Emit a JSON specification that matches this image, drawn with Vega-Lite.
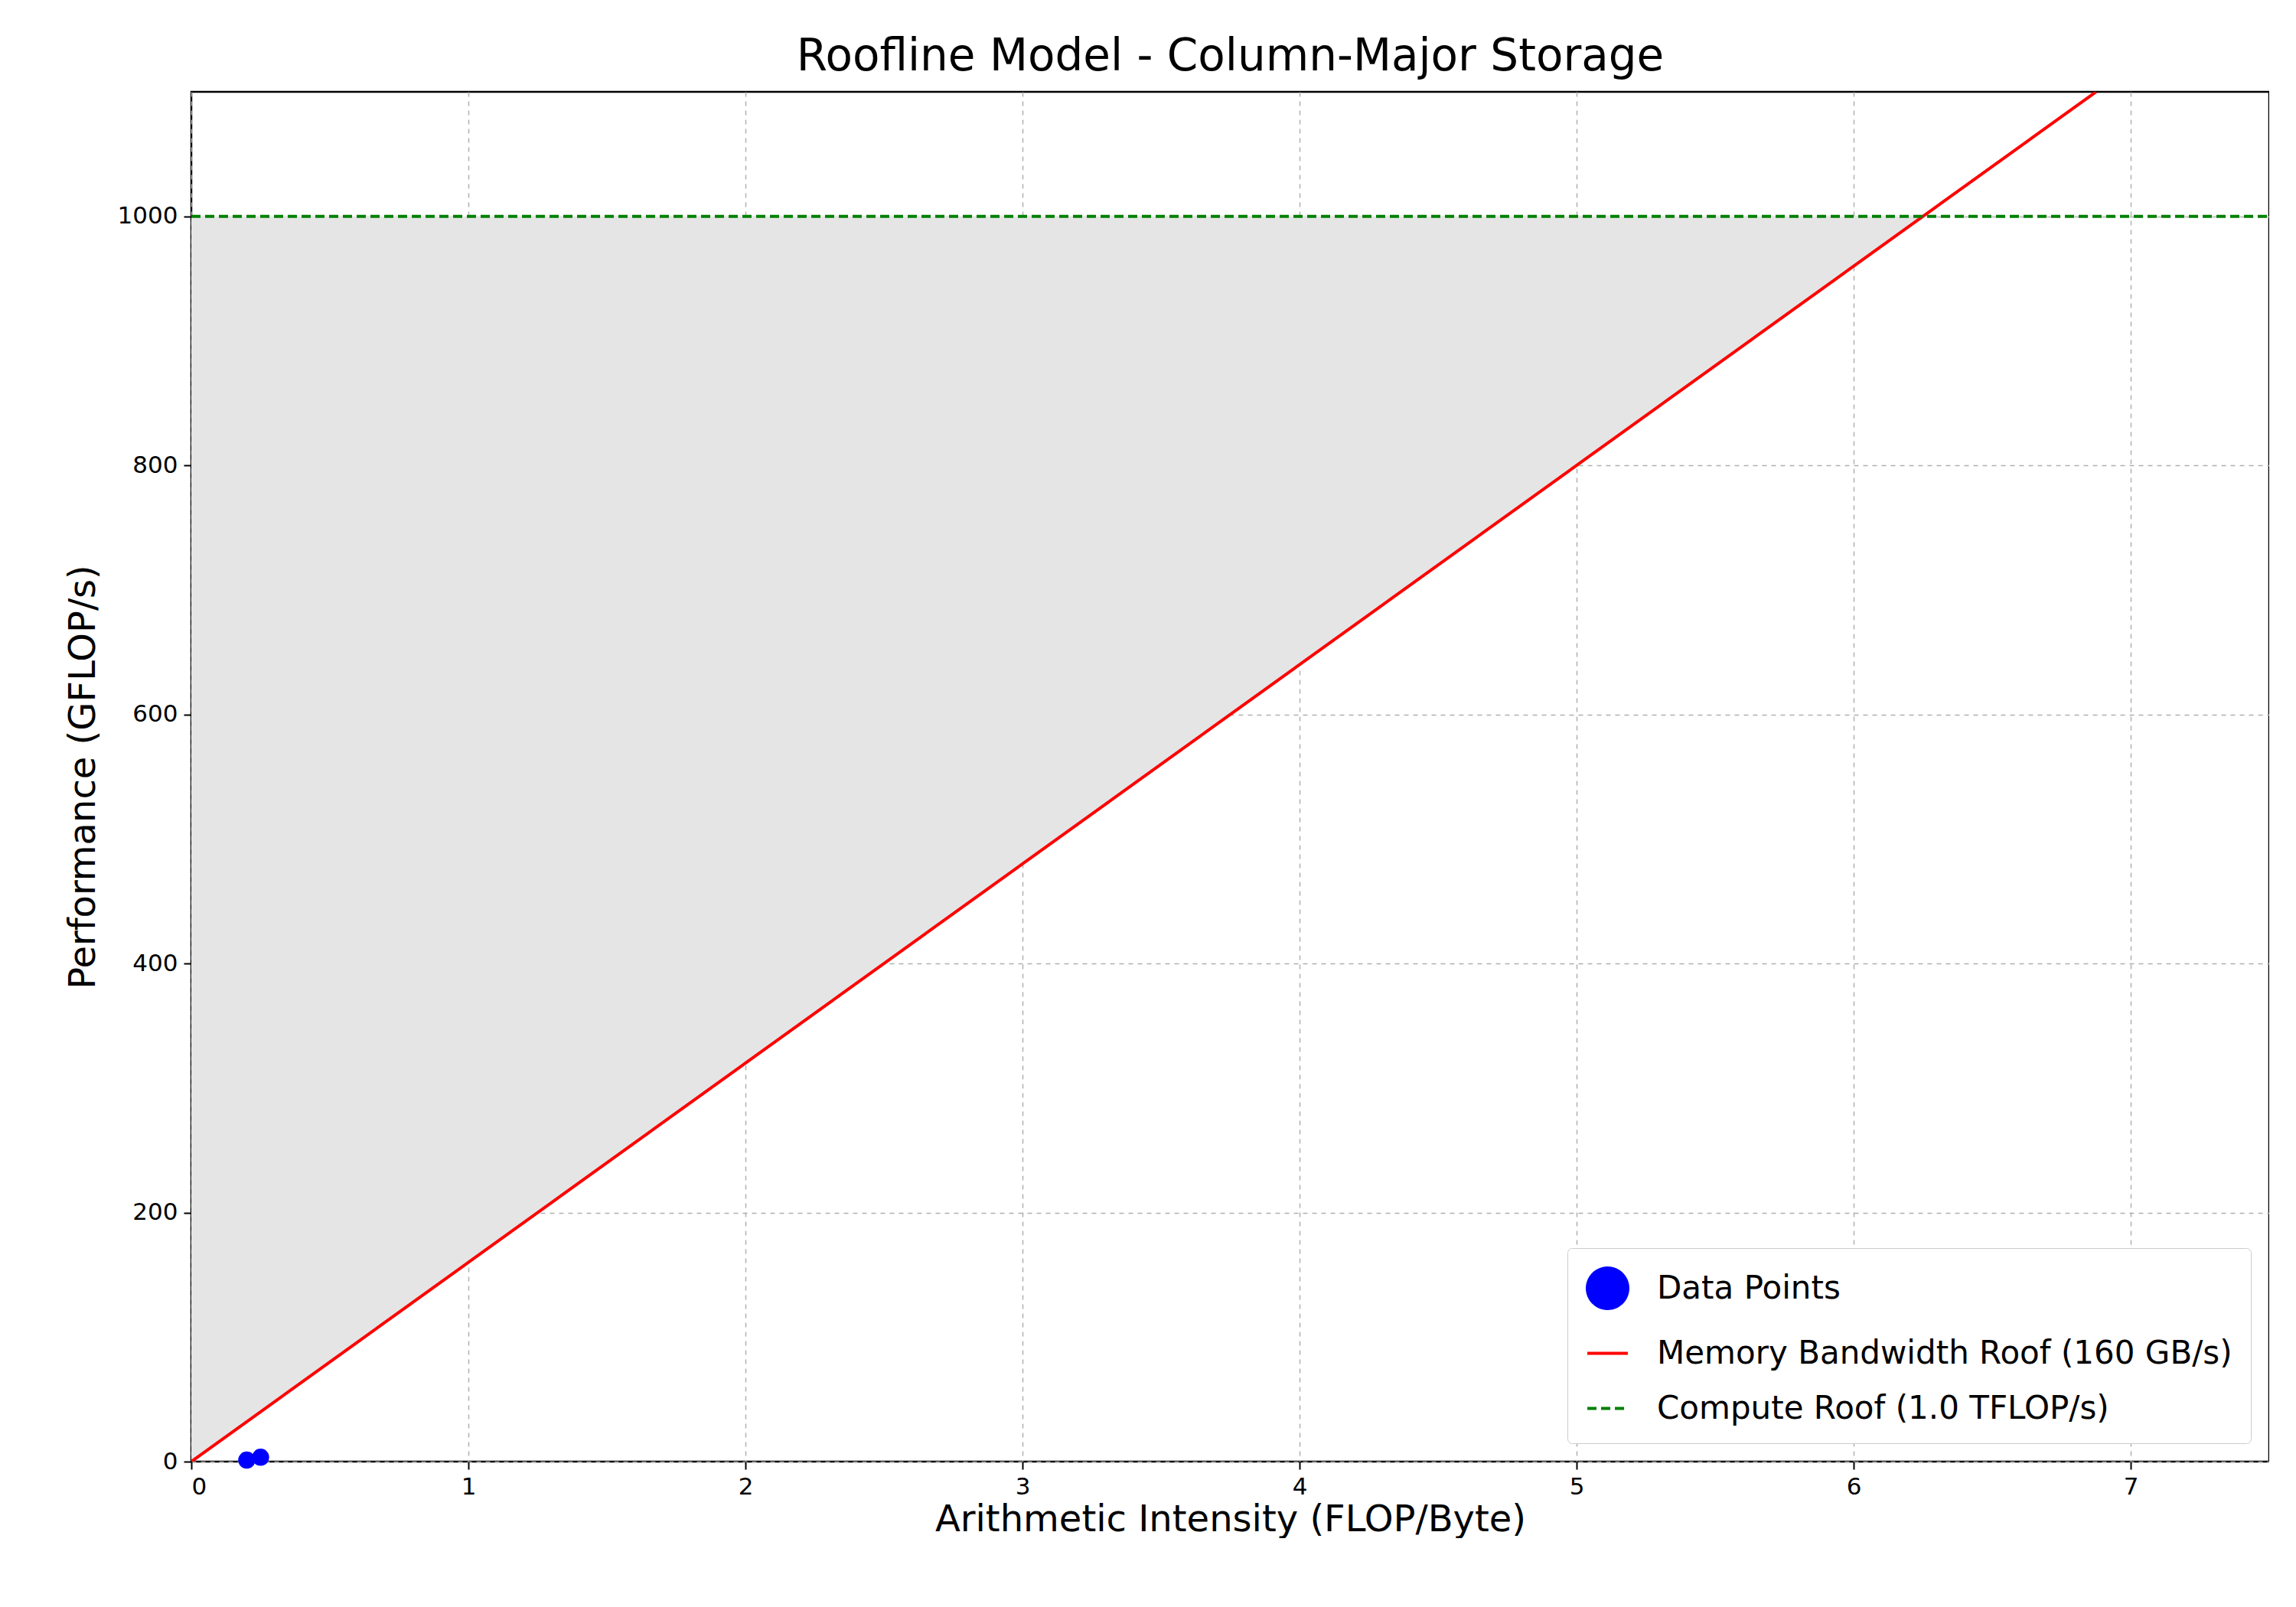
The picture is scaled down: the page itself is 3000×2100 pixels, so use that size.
{
"$schema":"https://vega.github.io/schema/vega-lite/v6.json",
"width":2715,"height":1790,
"padding":{"left":85,"top":46,"right":0,"bottom":0},
"background":"white",
"config":{"font":"DejaVu Sans","view":{"stroke":"black","strokeWidth":2.5},
"axis":{"grid":true,"gridColor":"#b0b0b0","gridDash":[6,6],"gridWidth":1.5,"domain":false,"tickColor":"black","tickWidth":2,"tickSize":10,"labelFontSize":31,"labelColor":"black","titleFontSize":48,"titleFontWeight":"normal","titleColor":"black","labelPadding":8}},
"title":{"text":"Roofline Model - Column-Major Storage","fontSize":58,"fontWeight":"normal","offset":16},
"datasets":{
"pts":[{"ai":0.2,"perf":1.2,"s":"Data Points"},{"ai":0.25,"perf":3.5,"s":"Data Points"}],
"mem":[{"ai":0,"perf":0,"s":"Memory Bandwidth Roof (160 GB/s)"},{"ai":6.875,"perf":1100,"s":"Memory Bandwidth Roof (160 GB/s)"}],
"fill":[{"ai":0,"perf":0,"top":1000},{"ai":6.25,"perf":1000,"top":1000}],
"comp":[{"ai":0,"perf":1000,"s":"Compute Roof (1.0 TFLOP/s)"},{"ai":7.5,"perf":1000,"s":"Compute Roof (1.0 TFLOP/s)"}]
},
"encoding":{
"x":{"field":"ai","type":"quantitative","scale":{"domain":[0,7.5],"nice":false},"axis":{"values":[0,1,2,3,4,5,6,7],"title":"Arithmetic Intensity (FLOP/Byte)"}},
"y":{"field":"perf","type":"quantitative","scale":{"domain":[0,1100],"nice":false},"axis":{"values":[0,200,400,600,800,1000],"format":"d","title":"Performance (GFLOP/s)","titlePadding":20}}
},
"layer":[
{"data":{"name":"fill"},"mark":{"type":"area","color":"#e5e5e5","clip":true},"encoding":{"y2":{"field":"top"}}},
{"data":{"name":"pts"},"mark":{"type":"point","filled":true,"size":500,"opacity":1},
 "encoding":{"color":{"field":"s","type":"nominal","scale":{"domain":["Data Points","Memory Bandwidth Roof (160 GB/s)","Compute Roof (1.0 TFLOP/s)"],"range":["blue","red","green"]},
 "legend":{"title":null,"orient":"bottom-right","labelFontSize":42,"symbolSize":2800,"symbolStrokeWidth":4,"labelOffset":36,"rowPadding":22,"padding":24,"strokeColor":"#cccccc","fillColor":"white","cornerRadius":6,"offset":24,"labelLimit":1500}},
 "shape":{"field":"s","type":"nominal","scale":{"domain":["Data Points","Memory Bandwidth Roof (160 GB/s)","Compute Roof (1.0 TFLOP/s)"],"range":["circle","stroke","stroke"]}},
 "strokeDash":{"field":"s","type":"nominal","scale":{"domain":["Data Points","Memory Bandwidth Roof (160 GB/s)","Compute Roof (1.0 TFLOP/s)"],"range":[[1,0],[1,0],[12,6]]}}}},
{"data":{"name":"mem"},"mark":{"type":"line","strokeWidth":4,"clip":true},"encoding":{"color":{"field":"s","type":"nominal"},"strokeDash":{"field":"s","type":"nominal"}}},
{"data":{"name":"comp"},"mark":{"type":"line","strokeWidth":4,"clip":true},"encoding":{"color":{"field":"s","type":"nominal"},"strokeDash":{"field":"s","type":"nominal"}}}
]
}
